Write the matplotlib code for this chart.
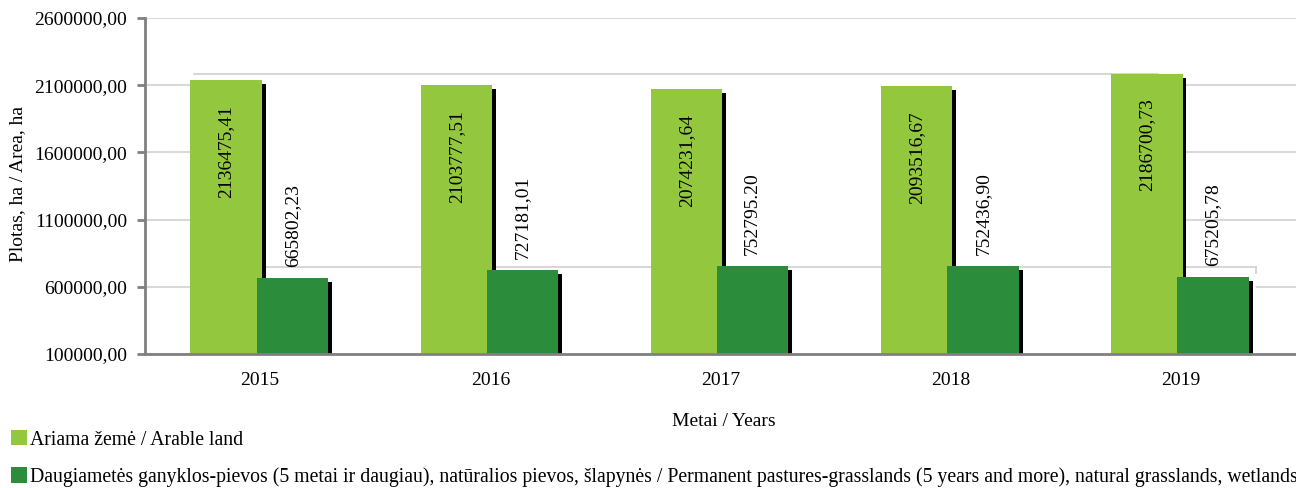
import numpy as np
import matplotlib
matplotlib.use("Agg")
import matplotlib.pyplot as plt
from matplotlib.patches import Rectangle

plt.rcParams['font.family'] = ['Liberation Serif', 'DejaVu Serif']

years = ['2015', '2016', '2017', '2018', '2019']
arable = [2136475.41, 2103777.51, 2074231.64, 2093516.67, 2186700.73]
pastures = [665802.23, 727181.01, 752795.20, 752436.90, 675205.78]
# labels as printed in the source (one uses a dot)
arable_lbl = ['2136475,41', '2103777,51', '2074231,64', '2093516,67', '2186700,73']
pastures_lbl = ['665802,23', '727181,01', '752795.20', '752436,90', '675205,78']
series_names = ['Ariama žemė / Arable land',
                'Daugiametės ganyklos-pievos (5 metai ir daugiau), natūralios pievos, šlapynės / '
                'Permanent pastures-grasslands (5 years and more), natural grasslands, wetlands']
yticks = [100000, 600000, 1100000, 1600000, 2100000, 2600000]

c_light = '#93C83E'
c_dark = '#2B8C3B'
grey = '#808080'

fig = plt.figure(figsize=(12.96, 4.88), dpi=100)
ax = fig.add_axes([145/1296, 1-354/488, 1-145/1296, (354-18)/488])

x = np.arange(len(years))
w = 0.31
off1, off2 = -0.148, 0.140
sx, sy = 0.017, 30000  # shadow offset

ax.set_xlim(-0.5, len(years)-0.5)
ax.set_ylim(yticks[0], yticks[-1])
ax.set_yticks(yticks)
ax.set_yticklabels([f"{t:.2f}".replace('.', ',') for t in yticks])
ax.yaxis.grid(True, color='#D9D9D9', lw=1.5, zorder=0)
ax.set_axisbelow(True)

# back wall panels of the 3d-style chart (hide the grid behind the bars)
ax.add_patch(Rectangle((0.043, 0), 0.837, 0.833, transform=ax.transAxes,
                       facecolor='white', edgecolor='none', zorder=0.7))
ax.add_patch(Rectangle((0.043, 0), 0.922, 0.259, transform=ax.transAxes,
                       facecolor='white', edgecolor='none', zorder=0.7))
ax.plot([0.043, 0.88], [0.833, 0.833], transform=ax.transAxes, color='#D0D0D0', lw=1.2, zorder=0.8)
ax.plot([0.043, 0.965], [0.259, 0.259], transform=ax.transAxes, color='#D0D0D0', lw=1.2, zorder=0.8)
ax.plot([0.965, 0.965], [0.259, 0.241], transform=ax.transAxes, color='#D0D0D0', lw=1.2, zorder=0.8)

ax.bar(x + off1 + sx, np.array(arable) - sy, w, color='black', zorder=1)
ax.bar(x + off2 + sx, np.array(pastures) - sy, w, color='black', zorder=1)
b1 = ax.bar(x + off1, arable, w, color=c_light, zorder=2, label=series_names[0])
b2 = ax.bar(x + off2, pastures, w, color=c_dark, zorder=3, label=series_names[1])

for i in range(len(years)):
    ax.annotate(arable_lbl[i], (x[i] + off1, arable[i]), xytext=(0, -18), textcoords='offset points',
                rotation=90, ha='center', va='top', fontsize=14, zorder=5)
    ax.annotate(pastures_lbl[i], (x[i] + off2, pastures[i]), xytext=(0, 8), textcoords='offset points',
                rotation=90, ha='center', va='bottom', fontsize=14, zorder=5)

ax.set_xticks(x)
ax.set_xticklabels(years, fontsize=14)
ax.tick_params(axis='x', length=0, pad=13)
ax.tick_params(axis='y', labelsize=14, length=6, width=2, color=grey, pad=7)
for s in ['top', 'right']:
    ax.spines[s].set_visible(False)
for s in ['left', 'bottom']:
    ax.spines[s].set_color(grey)
    ax.spines[s].set_linewidth(2)
ax.spines['bottom'].set_zorder(4)

fig.text(724/1296, 1-422/488, 'Metai / Years', ha='center', va='center', fontsize=14)
fig.text(18/1296, 1-184/488, 'Plotas, ha / Area, ha', ha='center', va='center',
         rotation=90, fontsize=14)

fig.legend(handles=[b1, b2], labels=series_names, loc='upper left',
           bbox_to_anchor=(11/1296, 1-430/488), frameon=False, fontsize=14.2,
           handlelength=0.82, handleheight=0.82, handletextpad=0.12,
           labelspacing=0.9, borderpad=0, borderaxespad=0)

fig.savefig('out.png', dpi=100)
